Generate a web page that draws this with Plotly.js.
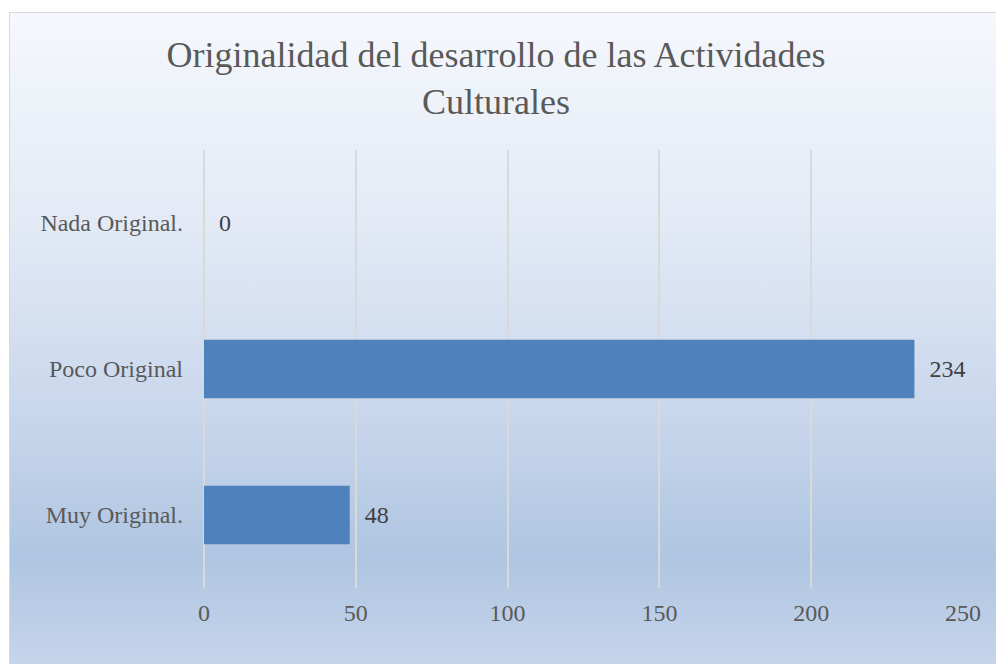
<!DOCTYPE html>
<html>
<head>
<meta charset="utf-8">
<script src="https://cdn.plot.ly/plotly-3.0.1.min.js"></script>
<style>
  html, body { margin: 0; padding: 0; background: #ffffff; width: 996px; height: 664px; overflow: hidden; }
  #bg {
    position: absolute; left: 9px; top: 12px; width: 1000px; height: 665px;
    border: 1px solid #D9D9D9; box-sizing: border-box;
    background: linear-gradient(to bottom, #F5F8FC 0%, #E4EBF6 30%, #C9D7EC 60%, #AFC5E1 82%, #C8D6EC 100%);
  }
  #chart { position: absolute; left: 0; top: 0; width: 996px; height: 664px; }
</style>
</head>
<body>
<div id="bg"></div>
<div id="chart"></div>
<script>
const categories = ['Muy Original.', 'Poco Original', 'Nada Original.'];
const values = [48, 234, 0];
const xTicks = [0, 50, 100, 150, 200, 250];

const serif = '"Liberation Serif", "Times New Roman", Times, serif';

const trace = {
  type: 'bar',
  orientation: 'h',
  y: categories,
  x: values,
  marker: { color: '#4F81BD' },
  text: values.map(v => '\u00a0\u00a0' + v),
  textposition: 'outside',
  cliponaxis: false,
  textfont: { family: serif, size: 24, color: '#404040' },
  hoverinfo: 'none'
};

const layout = {
  width: 996, height: 664,
  paper_bgcolor: 'rgba(0,0,0,0)',
  plot_bgcolor: 'rgba(0,0,0,0)',
  margin: { l: 204, r: 33, t: 150, b: 76, pad: 0 },
  showlegend: false,
  bargap: 0.6,
  font: { family: serif },
  title: {
    text: 'Originalidad del desarrollo de las Actividades<br>Culturales',
    font: { family: serif, size: 36, color: '#595959' },
    x: 0.498, xanchor: 'center', xref: 'container',
    y: 0.899, yanchor: 'top', yref: 'container'
  },
  xaxis: {
    range: [0, 250],
    tickvals: xTicks,
    ticktext: xTicks.map(String),
    showgrid: true, gridcolor: '#D9D9D9', gridwidth: 2,
    zeroline: true, zerolinecolor: '#D9D9D9', zerolinewidth: 2,
    showline: false, ticks: '',
    tickfont: { family: serif, size: 24, color: '#595959' },
    ticklabelstandoff: 8,
    fixedrange: true
  },
  yaxis: {
    showgrid: false, zeroline: false, showline: false, ticks: '',
    tickfont: { family: serif, size: 24, color: '#595959' },
    ticklabelstandoff: 20,
    fixedrange: true
  }
};

Plotly.newPlot('chart', [trace], layout, { displayModeBar: false, staticPlot: true });
</script>
</body>
</html>
